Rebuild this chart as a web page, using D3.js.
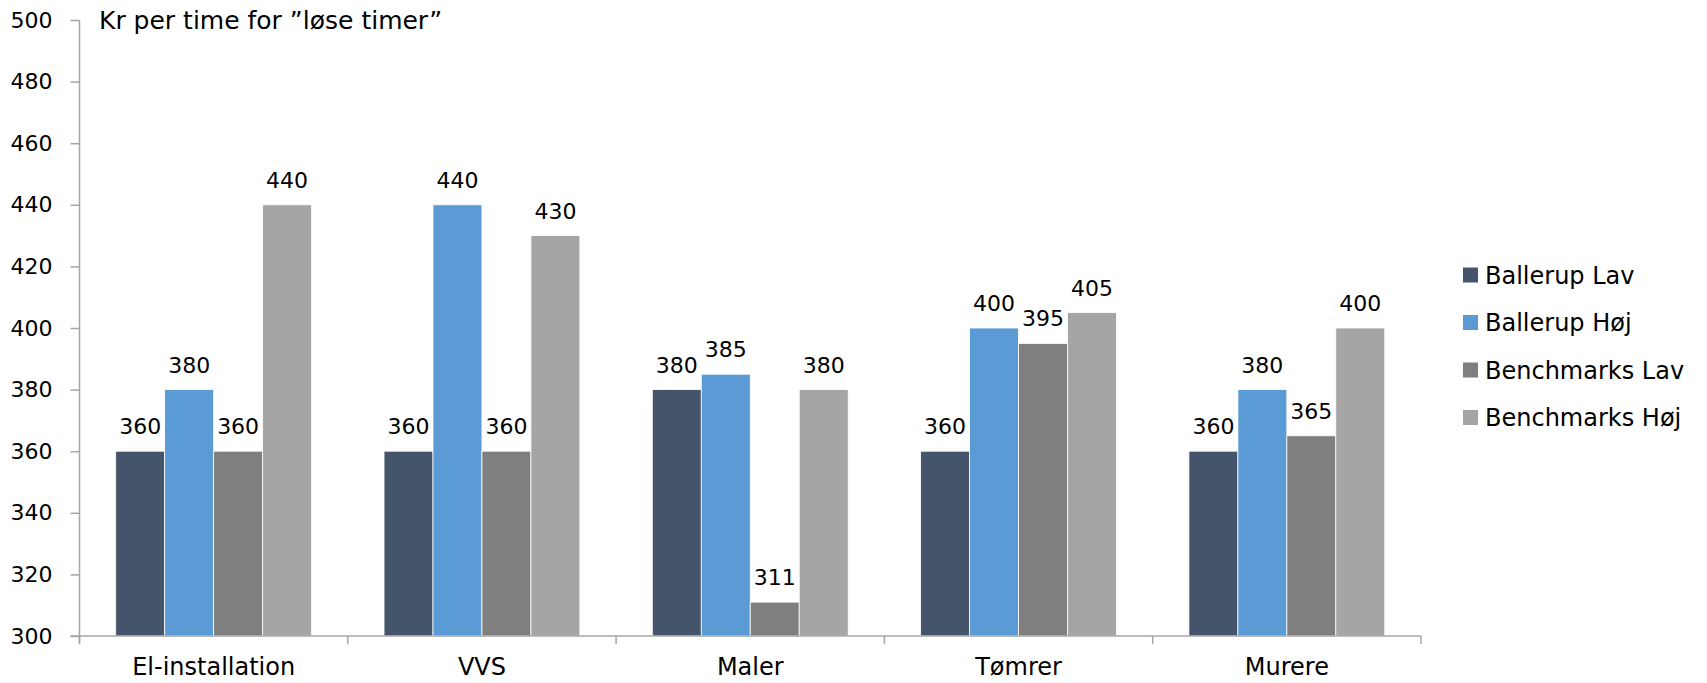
<!DOCTYPE html>
<html>
<head>
<meta charset="utf-8">
<script src="https://cdn.jsdelivr.net/npm/d3@7"></script>
<style>
  body { margin: 0; background: #fff; }
  svg text { font-family: "DejaVu Sans", sans-serif; fill: #000; }
</style>
</head>
<body>
<div id="wrapper"></div>
<script>

// data
const categories = ["El-installation", "VVS", "Maler", "Tømrer", "Murere"]
const seriesNames = ["Ballerup Lav", "Ballerup Høj", "Benchmarks Lav", "Benchmarks Høj"]
const ballerupLav = [360, 360, 380, 360, 360]
const ballerupHoj = [380, 440, 385, 400, 380]
const benchmarksLav = [360, 360, 311, 395, 365]
const benchmarksHoj = [440, 430, 380, 405, 400]
const yTicks = [300, 320, 340, 360, 380, 400, 420, 440, 460, 480, 500]
const colors = ["#44546A", "#5B9BD5", "#7F7F7F", "#A5A5A5"]
const title = "Kr per time for ”løse timer”"

const seriesValues = [ballerupLav, ballerupHoj, benchmarksLav, benchmarksHoj]
const dataset = []
categories.forEach((c, ci) => {
  seriesNames.forEach((s, si) => {
    dataset.push({ category: c, series: s, value: seriesValues[si][ci] })
  })
})

// dimensions
let dimensions = {
  width: 1707,
  height: 683,
  margin: { top: 20, right: 286, bottom: 47, left: 79.5 },
}
dimensions.boundedWidth = dimensions.width - dimensions.margin.left - dimensions.margin.right
dimensions.boundedHeight = dimensions.height - dimensions.margin.top - dimensions.margin.bottom

const wrapper = d3.select("#wrapper")
  .append("svg")
    .attr("width", dimensions.width)
    .attr("height", dimensions.height)

const bounds = wrapper.append("g")
    .attr("transform", `translate(${dimensions.margin.left},${dimensions.margin.top})`)

// scales
const x0 = d3.scaleBand()
  .domain(categories)
  .range([0, dimensions.boundedWidth])
  .paddingInner(0.27)
  .paddingOuter(0.135)

const x1 = d3.scaleBand()
  .domain(seriesNames)
  .range([0, x0.bandwidth()])

const yScale = d3.scaleLinear()
  .domain([300, 500])
  .range([dimensions.boundedHeight, 0])

const color = d3.scaleOrdinal().domain(seriesNames).range(colors)

// bars
bounds.selectAll("rect.bar")
    .data(dataset)
  .join("rect")
    .attr("class", "bar")
    .attr("x", d => x0(d.category) + x1(d.series))
    .attr("y", d => yScale(d.value))
    .attr("width", x1.bandwidth())
    .attr("height", d => dimensions.boundedHeight - yScale(d.value))
    .attr("fill", d => color(d.series))
    .attr("stroke", "#ffffff")
    .attr("stroke-width", 0.8)

// value labels
bounds.selectAll("text.value")
    .data(dataset)
  .join("text")
    .attr("class", "value")
    .attr("x", d => x0(d.category) + x1(d.series) + x1.bandwidth() / 2)
    .attr("y", d => yScale(d.value) - 17)
    .attr("text-anchor", "middle")
    .style("font-size", "22px")
    .text(d => d.value)

// y axis
const yAxisGenerator = d3.axisLeft(yScale)
  .tickValues(yTicks)
  .tickSize(9)
  .tickSizeOuter(0)
  .tickPadding(18)
const yAxis = bounds.append("g").call(yAxisGenerator)
yAxis.select(".domain").attr("stroke", "#A6A6A6").attr("stroke-width", 1.5)
  .attr("d", `M0,0V${dimensions.boundedHeight + 8}`)
yAxis.selectAll(".tick line").attr("stroke", "#A6A6A6").attr("stroke-width", 1.5)
yAxis.selectAll(".tick text").style("font-size", "22px").attr("fill", "#000")

// x axis
const xAxis = bounds.append("g")
    .attr("transform", `translate(0,${dimensions.boundedHeight})`)
xAxis.append("line")
    .attr("x1", -9)
    .attr("x2", dimensions.boundedWidth)
    .attr("stroke", "#A6A6A6")
    .attr("stroke-width", 1.5)
xAxis.selectAll("line.tick")
    .data(d3.range(categories.length + 1))
  .join("line")
    .attr("class", "tick")
    .attr("x1", i => i * x0.step())
    .attr("x2", i => i * x0.step())
    .attr("y2", 8)
    .attr("stroke", "#A6A6A6")
    .attr("stroke-width", 1.5)
xAxis.selectAll("text.cat")
    .data(categories)
  .join("text")
    .attr("class", "cat")
    .attr("x", d => x0(d) + x0.bandwidth() / 2)
    .attr("y", 39)
    .attr("text-anchor", "middle")
    .style("font-size", "24px")
    .text(d => d)

// title
wrapper.append("text")
    .attr("x", 99)
    .attr("y", 29)
    .style("font-size", "25px")
    .text(title)

// legend
const legend = wrapper.append("g")
    .attr("transform", "translate(1463,275)")
const legendItems = legend.selectAll("g")
    .data(seriesNames)
  .join("g")
    .attr("transform", (d, i) => `translate(0,${i * 47.5})`)
legendItems.append("rect")
    .attr("x", 0)
    .attr("y", -7.5)
    .attr("width", 15)
    .attr("height", 15)
    .attr("fill", d => color(d))
legendItems.append("text")
    .attr("x", 22)
    .attr("dy", "0.36em")
    .style("font-size", "24px")
    .text(d => d)

</script>
</body>
</html>
